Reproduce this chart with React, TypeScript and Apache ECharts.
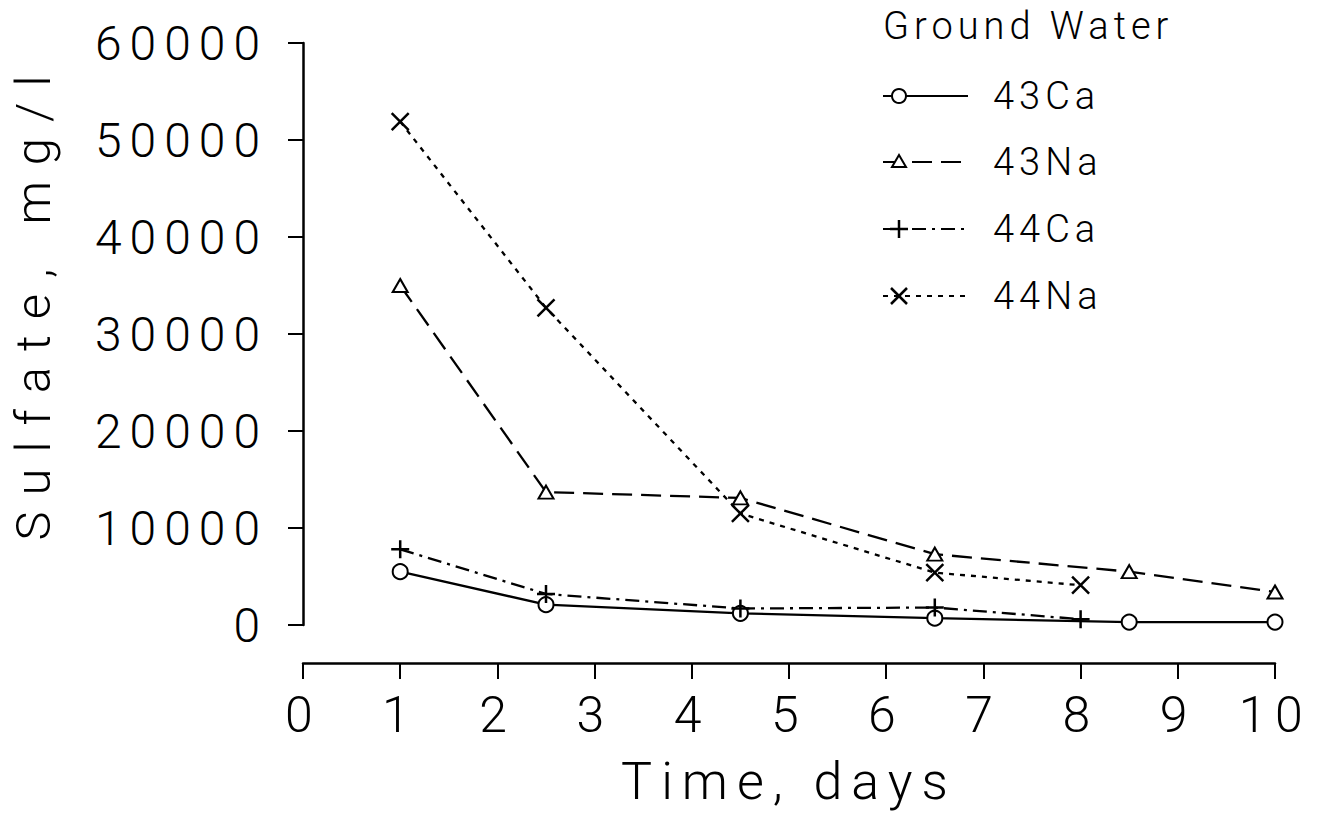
import React, { useEffect, useRef } from "react";
import * as echarts from "echarts";

// ---- data ----
const days43 = [1, 2.5, 4.5, 6.5, 8.5, 10];
const days44 = [1, 2.5, 4.5, 6.5, 8];
const ca43 = [5500, 2100, 1200, 700, 300, 300];
const na43 = [35000, 13700, 13100, 7300, 5500, 3400];
const ca44 = [7800, 3200, 1700, 1800, 600];
const na44 = [51900, 32700, 11500, 5400, 4100];

const seriesNames = ["43Ca", "43Na", "44Ca", "44Na"];
const legendTitle = "Ground Water";
const xName = "Time, days";
const yName = "Sulfate, mg/l";
const xMin = 0;
const xMax = 10;
const xStep = 1;
const yMin = 0;
const yMax = 60000;
const yStep = 10000;

const FONT = "Roboto";
const W = 300;

const dashes: (number[] | "solid")[] = ["solid", [20, 9], [14, 6, 3, 6], [5, 6]];

const plusPath = "path://M10,0L10,20M0,10L20,10";
const crossPath = "path://M0,0L20,20M0,20L20,0";

const css = `
#sulfate-chart text[style*="48px"]{letter-spacing:8px}
#sulfate-chart text[style*="50px"]{letter-spacing:8.5px}
#sulfate-chart text[style*="52px"]{letter-spacing:9px}
#sulfate-chart text[style*="49px"]{letter-spacing:16px}
#sulfate-chart text[style*="38px"]{letter-spacing:5px}
`;

function legendMarker(i: number, cx: number, cy: number): any[] {
  const st = { stroke: "#000", lineWidth: 2, fill: "#fff" };
  if (i === 0) return [{ type: "circle", shape: { cx, cy, r: 7 }, style: st, z: 10 }];
  if (i === 1)
    return [
      {
        type: "polygon",
        shape: { points: [[cx, cy - 7], [cx + 7, cy + 5], [cx - 7, cy + 5]] },
        style: st,
        z: 10,
      },
    ];
  if (i === 2)
    return [
      { type: "line", shape: { x1: cx, y1: cy - 9, x2: cx, y2: cy + 9 }, style: { stroke: "#000", lineWidth: 2.5 }, z: 10 },
      { type: "line", shape: { x1: cx - 9, y1: cy, x2: cx + 9, y2: cy }, style: { stroke: "#000", lineWidth: 2.5 }, z: 10 },
    ];
  return [
    { type: "line", shape: { x1: cx - 8, y1: cy - 8, x2: cx + 8, y2: cy + 8 }, style: { stroke: "#000", lineWidth: 2.5 }, z: 10 },
    { type: "line", shape: { x1: cx - 8, y1: cy + 8, x2: cx + 8, y2: cy - 8 }, style: { stroke: "#000", lineWidth: 2.5 }, z: 10 },
  ];
}

export default function App() {
  const ref = useRef<HTMLDivElement>(null);

  useEffect(() => {
    if (!ref.current) return;
    const chart = echarts.init(ref.current, undefined, { renderer: "svg" });

    const legendY = [96, 162, 229, 296];
    const graphics: any[] = [
      {
        type: "text",
        x: 883,
        y: 26,
        style: { text: legendTitle, fontSize: 38, fontFamily: FONT, fontWeight: W, fill: "#000", verticalAlign: "middle" },
      },
      {
        type: "text",
        x: 33,
        y: 300,
        rotation: Math.PI / 2,
        style: {
          text: yName,
          fontSize: 49,
          fontFamily: FONT,
          fontWeight: W,
          fill: "#000",
          align: "center",
          verticalAlign: "middle",
        },
      },
    ];
    seriesNames.forEach((name, i) => {
      const cy = legendY[i];
      const d = dashes[i];
      graphics.push({
        type: "line",
        shape: { x1: 883, y1: cy, x2: 968, y2: cy },
        style: { stroke: "#000", lineWidth: 2, lineDash: d === "solid" ? null : d },
      });
      graphics.push(...legendMarker(i, 899, cy));
      graphics.push({
        type: "text",
        x: 993,
        y: cy,
        style: { text: name, fontSize: 38, fontFamily: FONT, fontWeight: W, fill: "#000", verticalAlign: "middle" },
      });
    });

    const mk = (xs: number[], ys: number[]) => xs.map((x, i) => [x, ys[i]]);
    const base = (i: number) => ({
      type: "line" as const,
      name: seriesNames[i],
      showSymbol: true,
      lineStyle: { color: "#000", width: 2.3, type: dashes[i] as any },
      emphasis: { disabled: true },
      z: 3,
    });

    chart.setOption({
      animation: false,
      backgroundColor: "#fff",
      grid: { left: 303, right: 49, top: 43, bottom: 189, containLabel: false },
      xAxis: {
        type: "value",
        min: xMin,
        max: xMax,
        interval: xStep,
        offset: 38,
        name: xName,
        nameLocation: "middle",
        nameGap: 92,
        nameTextStyle: { fontSize: 52, fontFamily: FONT, fontWeight: W, color: "#000" },
        axisLine: { show: true, onZero: false, lineStyle: { color: "#000", width: 2.5 } },
        axisTick: { show: true, inside: false, length: 16, lineStyle: { color: "#000", width: 2 } },
        axisLabel: {
          margin: 27,
          fontSize: 50,
          fontFamily: FONT,
          fontWeight: W,
          color: "#000",
          formatter: (v: number) => String(v),
        },
        splitLine: { show: false },
      },
      yAxis: {
        type: "value",
        min: yMin,
        max: yMax,
        interval: yStep,
        axisLine: { show: true, lineStyle: { color: "#000", width: 2.5 } },
        axisTick: { show: true, inside: false, length: 15, lineStyle: { color: "#000", width: 2 } },
        axisLabel: {
          margin: 35,
          fontSize: 48,
          fontFamily: FONT,
          fontWeight: W,
          color: "#000",
          formatter: (v: number) => String(v),
        },
        splitLine: { show: false },
      },
      graphic: graphics,
      series: [
        {
          ...base(0),
          data: mk(days43, ca43),
          symbol: "emptyCircle",
          symbolSize: 15,
          itemStyle: { color: "#000", borderWidth: 2 },
        },
        {
          ...base(1),
          data: mk(days43, na43),
          symbol: "emptyTriangle",
          symbolSize: [15, 13],
          itemStyle: { color: "#000", borderWidth: 2 },
        },
        {
          ...base(2),
          data: mk(days44, ca44),
          symbol: plusPath,
          symbolSize: 18,
          itemStyle: { color: "none", borderColor: "#000", borderWidth: 2.5 },
        },
        {
          ...base(3),
          data: mk(days44, na44),
          symbol: crossPath,
          symbolSize: 17,
          itemStyle: { color: "none", borderColor: "#000", borderWidth: 2.5 },
        },
      ],
    });

    return () => chart.dispose();
  }, []);

  return (
    <>
      <style>{css}</style>
      <div
        id="sulfate-chart"
        ref={ref}
        style={{ position: "fixed", left: 0, top: 0, width: 1324, height: 814, background: "#fff" }}
      />
    </>
  );
}
